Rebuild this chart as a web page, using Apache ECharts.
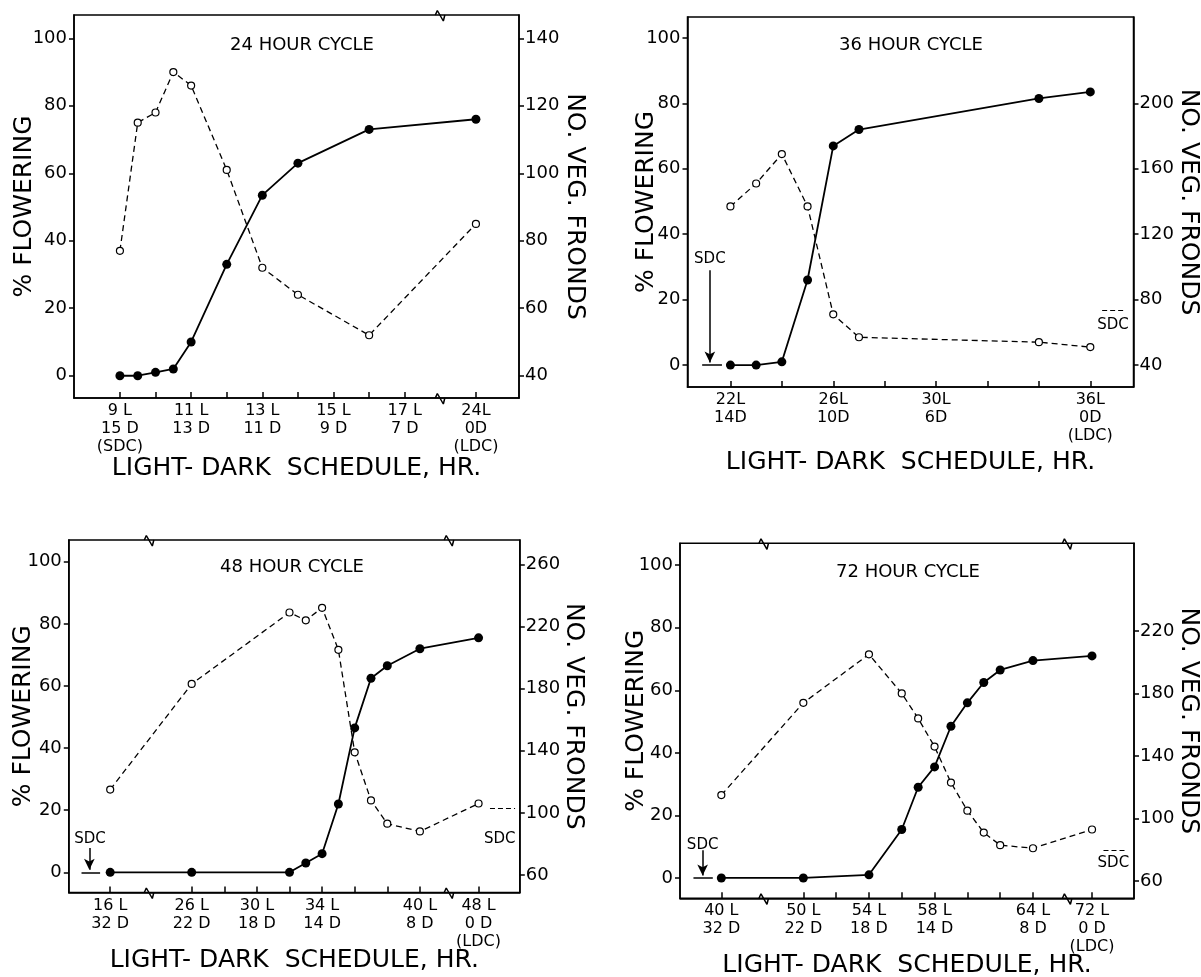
<!DOCTYPE html>
<html>
<head>
<meta charset="utf-8">
<title>Flowering vs light-dark schedule</title>
<script src="https://cdn.jsdelivr.net/npm/echarts@6/dist/echarts.min.js"></script>
<style>
html, body { margin: 0; padding: 0; background: #fff; }
#chart { width: 1201px; height: 977px; }
</style>
</head>
<body>
<div id="chart"></div>
<script>
// x positions are places on the (broken) axis; labels say the real schedule
// 24 hour cycle: 24L sits at 19, after the break at 18
const c24Pos = [9, 9.5, 10, 10.5, 11, 12, 13, 14, 16, 19]
const c24Flower = [0, 0, 1, 2, 10, 33, 53.5, 63, 73, 76]
const c24Fronds = [77, 115, 118, 130, 126, 101, 72, 64, 52, 85]
const c24TickPos = [9, 10, 11, 12, 13, 14, 15, 16, 17, 19]
const c24LabelPos = [9, 11, 13, 15, 17, 19]
const c24Labels = ['9 L\n15 D\n(SDC)', '11 L\n13 D', '13 L\n11 D', '15 L\n9 D', '17 L\n7 D', '24L\n0D\n(LDC)']
const c24RightTicks = [40, 60, 80, 100, 120, 140]
const c24Breaks = [18]

// 36 hour cycle
const c36Pos = [22, 23, 24, 25, 26, 27, 34, 36]
const c36Flower = [0, 0, 1, 26, 67, 72, 81.5, 83.5]
const c36Fronds = [137, 151, 169, 137, 71, 57, 54, 51]
const c36TickPos = [22, 24, 26, 28, 30, 32, 34, 36]
const c36LabelPos = [22, 26, 30, 36]
const c36Labels = ['22L\n14D', '26L\n10D', '30L\n6D', '36L\n0D\n(LDC)']
const c36RightTicks = [40, 80, 120, 160, 200]
const c36Breaks = []

// 48 hour cycle: 16L drawn at 21, 48L at 43.6
const c48Pos = [21, 26, 32, 33, 34, 35, 36, 37, 38, 40, 43.6]
const c48Flower = [0, 0, 0, 3, 6, 22, 46.5, 62.5, 66.5, 72, 75.5]
const c48Fronds = [115, 183, 229, 224, 232, 205, 139, 108, 93, 88, 106]
const c48TickPos = [21, 26, 28, 30, 32, 34, 36, 38, 40, 43.6]
const c48LabelPos = [21, 26, 30, 34, 40, 43.6]
const c48Labels = ['16 L\n32 D', '26 L\n22 D', '30 L\n18 D', '34 L\n14 D', '40 L\n8 D', '48 L\n0 D\n(LDC)']
const c48RightTicks = [60, 100, 140, 180, 220, 260]
const c48Breaks = [23.4, 41.8]

// 72 hour cycle: 40L drawn at 45, 72L at 67.6
const c72Pos = [45, 50, 54, 56, 57, 58, 59, 60, 61, 62, 64, 67.6]
const c72Flower = [0, 0, 1, 15.5, 29, 35.5, 48.5, 56, 62.5, 66.5, 69.5, 71]
const c72Fronds = [115, 174, 205, 180, 164, 146, 123, 105, 91, 83, 81, 93]
const c72TickPos = [45, 50, 52, 54, 56, 58, 60, 62, 64, 67.6]
const c72LabelPos = [45, 50, 54, 58, 64, 67.6]
const c72Labels = ['40 L\n32 D', '50 L\n22 D', '54 L\n18 D', '58 L\n14 D', '64 L\n8 D', '72 L\n0 D\n(LDC)']
const c72RightTicks = [60, 100, 140, 180, 220]
const c72Breaks = [47.6, 66.1]

const leftTicks = [0, 20, 40, 60, 80, 100]

// SDC markers (in left-axis units)
const c36Sdc = { arrowX: 21.2, arrowTop: 29, barFrom: 20.9, barTo: 21.67, textX: 21.2, textY: 32.5, refFrom: 36.46, refTo: 37.36, refY: 16.7, rTextX: 36.88, rTextY: 12.3 }
const c48Sdc = { arrowX: 19.72, arrowTop: 7.8, barFrom: 19.24, barTo: 20.38, textX: 19.76, textY: 10.6, refFrom: 44.3, refTo: 45.84, refY: 20.6, rTextX: 44.9, rTextY: 10.6 }
const c72Sdc = { arrowX: 43.86, arrowTop: 8.9, barFrom: 43.3, barTo: 44.48, textX: 43.86, textY: 10.4, refFrom: 68.3, refTo: 69.6, refY: 8.9, rTextX: 68.9, rTextY: 4.8 }

const FONT = 'DejaVu Sans'
const BLACK = '#000'

const panels = [
  { title: '24 HOUR CYCLE', titleX: 302, titleY: 45,
    left: 74, top: 15, w: 445, h: 383, xMin: 7.71, xMax: 20.21, yMin: -6.6, yMax: 106.9,
    off: 40, k: 1, gapL: 37, gapR: 43, gapX: 58,
    pos: c24Pos, flower: c24Flower, fronds: c24Fronds, ticks: c24TickPos, labelPos: c24LabelPos,
    labels: c24Labels, rightTicks: c24RightTicks, breaks: c24Breaks, sdc: null },
  { title: '36 HOUR CYCLE', titleX: 911, titleY: 45,
    left: 687.5, top: 17, w: 446, h: 370, xMin: 20.33, xMax: 37.68, yMin: -6.7, yMax: 106.4,
    off: 40, k: 2, gapL: 29, gapR: 42, gapX: 63,
    pos: c36Pos, flower: c36Flower, fronds: c36Fronds, ticks: c36TickPos, labelPos: c36LabelPos,
    labels: c36Labels, rightTicks: c36RightTicks, breaks: c36Breaks, sdc: c36Sdc },
  { title: '48 HOUR CYCLE', titleX: 292, titleY: 567,
    left: 68.8, top: 540, w: 451, h: 352.5, xMin: 18.46, xMax: 46.13, yMin: -6.5, yMax: 107,
    off: 61.7, k: 2, gapL: 33, gapR: 41, gapX: 55,
    pos: c48Pos, flower: c48Flower, fronds: c48Fronds, ticks: c48TickPos, labelPos: c48LabelPos,
    labels: c48Labels, rightTicks: c48RightTicks, breaks: c48Breaks, sdc: c48Sdc },
  { title: '72 HOUR CYCLE', titleX: 908, titleY: 572,
    left: 680, top: 543.3, w: 454, h: 355, xMin: 42.48, xMax: 70.16, yMin: -6.5, yMax: 107,
    off: 62, k: 2, gapL: 31, gapR: 42, gapX: 55,
    pos: c72Pos, flower: c72Flower, fronds: c72Fronds, ticks: c72TickPos, labelPos: c72LabelPos,
    labels: c72Labels, rightTicks: c72RightTicks, breaks: c72Breaks, sdc: c72Sdc }
]

function labelAt (p, v) {
  const j = p.labelPos.findIndex(x => Math.abs(x - v) < 1e-6)
  return j < 0 ? '' : p.labels[j]
}

// little zigzag drawn where the axis is broken (pixel offsets turned into axis units)
function breakMark (p, xb, atTop) {
  const sx = p.w / (p.xMax - p.xMin)
  const sy = p.h / (p.yMax - p.yMin)
  const y0 = atTop ? p.yMax : p.yMin
  const shape = [[-5, 0], [-3, 4.5], [3, -6], [4.5, 0]]
  return shape.map(([dx, dy]) => [xb + dx / sx, y0 + dy / sy])
}

const lineStyle = { color: BLACK, width: 1.5 }
const grid = []
const xAxis = []
const yAxis = []
const series = []
const graphic = []

panels.forEach((p, i) => {
  grid.push({
    left: p.left, top: p.top, width: p.w, height: p.h,
    show: true, borderColor: BLACK, borderWidth: 1.5, backgroundColor: 'transparent',
    containLabel: false, outerBoundsMode: 'none'
  })

  xAxis.push({
    type: 'value', gridIndex: i, min: p.xMin, max: p.xMax,
    name: 'LIGHT- DARK  SCHEDULE, HR.', nameLocation: 'middle', nameGap: p.gapX, nameMoveOverlap: false,
    nameTextStyle: { fontFamily: FONT, fontSize: 25, color: BLACK },
    axisLine: { show: true, onZero: false, lineStyle },
    axisTick: { show: true, inside: true, length: 6, customValues: p.ticks, lineStyle },
    axisLabel: {
      customValues: p.labelPos, formatter: v => labelAt(p, v), margin: 4,
      fontFamily: FONT, fontSize: 16, lineHeight: 18, color: BLACK
    },
    splitLine: { show: false }
  })

  yAxis.push({
    type: 'value', gridIndex: i, position: 'left', min: p.yMin, max: p.yMax,
    name: '% FLOWERING', nameLocation: 'middle', nameGap: p.gapL, nameRotate: 90, nameMoveOverlap: false,
    nameTextStyle: { fontFamily: FONT, fontSize: 25, color: BLACK },
    axisLine: { show: true, onZero: false, lineStyle },
    axisTick: { show: true, length: 5, customValues: leftTicks, lineStyle },
    axisLabel: { customValues: leftTicks, margin: 7, fontFamily: FONT, fontSize: 18, color: BLACK },
    splitLine: { show: false }
  })
  yAxis.push({
    type: 'value', gridIndex: i, position: 'right',
    min: p.off + p.k * p.yMin, max: p.off + p.k * p.yMax,
    name: 'NO. VEG. FRONDS', nameLocation: 'middle', nameGap: p.gapR, nameRotate: -90, nameMoveOverlap: false,
    nameTextStyle: { fontFamily: FONT, fontSize: 25, color: BLACK },
    axisLine: { show: true, onZero: false, lineStyle },
    axisTick: { show: true, length: 5, customValues: p.rightTicks, lineStyle },
    axisLabel: { customValues: p.rightTicks, margin: 6, fontFamily: FONT, fontSize: 18, color: BLACK },
    splitLine: { show: false }
  })

  const flower = {
    type: 'line', xAxisIndex: i, yAxisIndex: 2 * i, z: 4,
    data: p.pos.map((x, j) => [x, p.flower[j]]),
    symbol: 'circle', symbolSize: 9,
    itemStyle: { color: BLACK },
    lineStyle: { color: BLACK, width: 1.8 }
  }
  if (p.sdc) {
    const s = p.sdc
    flower.markLine = {
      silent: true, animation: false, symbol: ['none', 'none'], label: { show: false },
      lineStyle: { color: BLACK, width: 1.5, type: 'solid' },
      data: [
        [{ coord: [s.arrowX, s.arrowTop] }, { coord: [s.arrowX, 0.8], symbol: 'arrow', symbolSize: [8, 11] }],
        [{ coord: [s.barFrom, 0] }, { coord: [s.barTo, 0] }],
        [{ coord: [s.refFrom, s.refY], lineStyle: { type: [5, 3], width: 1.2 } }, { coord: [s.refTo, s.refY] }]
      ]
    }
    series.push({
      type: 'scatter', xAxisIndex: i, yAxisIndex: 2 * i, silent: true,
      symbol: 'circle', symbolSize: 0.01,
      itemStyle: { color: BLACK, opacity: 1 },
      label: { show: true, position: 'inside', formatter: 'SDC', fontFamily: FONT, fontSize: 15, color: BLACK, opacity: 1, textBorderWidth: 0 },
      data: [[s.textX, s.textY], [s.rTextX, s.rTextY]]
    })
  }
  series.push(flower)

  series.push({
    type: 'line', xAxisIndex: i, yAxisIndex: 2 * i + 1, z: 3,
    data: p.pos.map((x, j) => [x, p.fronds[j]]),
    symbol: 'circle', symbolSize: 7,
    itemStyle: { color: '#fff', borderColor: BLACK, borderWidth: 1.2 },
    lineStyle: { color: BLACK, width: 1.3, type: [6, 4] }
  })

  p.breaks.forEach(xb => {
    [true, false].forEach(atTop => {
      series.push({
        type: 'line', xAxisIndex: i, yAxisIndex: 2 * i, z: 5, silent: true, clip: false,
        symbol: 'none', data: breakMark(p, xb, atTop), lineStyle
      })
    })
  })

  graphic.push({
    type: 'text', x: p.titleX, y: p.titleY, silent: true,
    style: { text: p.title, fontFamily: FONT, fontSize: 18, fill: BLACK, align: 'center', verticalAlign: 'middle' }
  })
})

const chart = echarts.init(document.getElementById('chart'))
chart.setOption({
  animation: false,
  backgroundColor: '#fff',
  textStyle: { fontFamily: FONT },
  grid,
  xAxis,
  yAxis,
  series,
  graphic
})
</script>
</body>
</html>
